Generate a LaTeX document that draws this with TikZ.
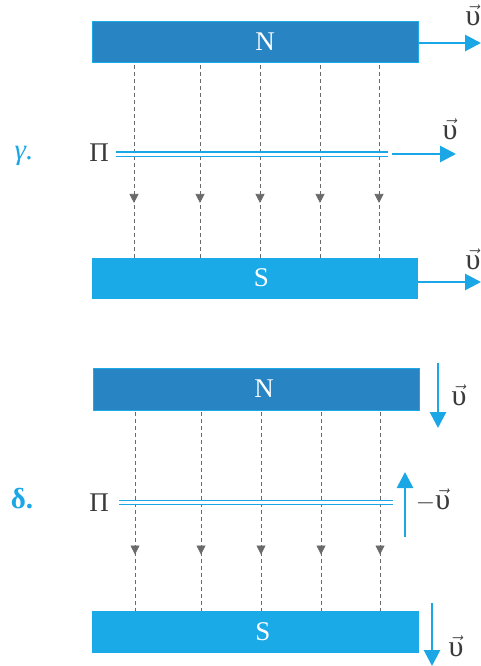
\documentclass[tikz,border=0pt]{standalone}
\usepackage{fontspec}
\newfontfamily\grk{Liberation Serif}
\usetikzlibrary{arrows.meta,decorations.markings}
\definecolor{ndark}{HTML}{2884C3}
\definecolor{sbright}{HTML}{1AAAE8}
\definecolor{arrowc}{HTML}{1BA7E5}
\definecolor{fieldc}{HTML}{6A6A6A}
\definecolor{txtc}{HTML}{3A3A3A}
\newcommand{\vu}{$\vec{\hbox{\grk υ}}$}
\begin{document}
\begin{tikzpicture}[x=1pt,y=-1pt,
  magnetN/.style={fill=ndark,draw=sbright,line width=0.8pt,inner sep=0pt},
  magnetS/.style={fill=sbright,draw=sbright,line width=0.8pt,inner sep=0pt},
  pole/.style={text=white,font=\fontsize{27}{30}\selectfont\grk,inner sep=0pt},
  pilab/.style={text=txtc,font=\fontsize{27}{30}\selectfont\grk,inner sep=0pt},
  vlab/.style={text=txtc,font=\fontsize{30}{32}\selectfont,inner sep=0pt},
  tag/.style={text=arrowc,font=\fontsize{29}{32}\selectfont\grk,inner sep=0pt},
  fieldline/.style={fieldc,line width=0.8pt,dash pattern=on 4pt off 3pt,
    postaction={decorate},
    decoration={markings,mark=at position 0.72 with {\arrow{Triangle[length=9pt,width=9pt]}}}},
  varrow/.style={arrowc,line width=2.8pt,-{Triangle[length=16pt,width=16pt]}},
  plate/.style={draw=arrowc,line width=1.2pt,double=white,double distance=3pt}
]
\useasboundingbox (0,0) rectangle (481,666);

% ---------- panel gamma ----------
\node[magnetN,minimum width=326pt,minimum height=41pt] (N1) at (255,41.5) {};
\node[magnetS,minimum width=325pt,minimum height=40pt] (S1) at (254.5,278) {};
\node[pole] (N1t) at ([xshift=10pt]N1.center) {N};
\node[pole] (S1t) at ([xshift=7pt]S1.center) {S};
\foreach \x in {134,200,260,320,379}
  \draw[fieldline,shorten <=3pt] (N1.south -| \x,0) -- (S1.north -| \x,0);
\coordinate (P1a) at (116,154);
\coordinate (P1b) at (388,154);
\draw[plate] (P1a) -- (P1b);
\node[pilab] (Pi1) at (99,153) {Π};
\node[tag] (g) at (24,156) {\itshape γ.};
% velocity arrows
\coordinate (a1) at (481,43);
\draw[varrow] ([yshift=-1.5pt]N1.east) -- (a1);
\node[vlab] (v1) at (473,15) {\vu};
\coordinate (a2a) at (392,154);
\coordinate (a2b) at (456,154);
\draw[varrow] (a2a) -- (a2b);
\node[vlab] (v2) at (450,129) {\vu};
\coordinate (a3) at (481,282);
\draw[varrow] ([yshift=-4pt]S1.east) -- (a3);
\node[vlab] (v3) at (473,259) {\vu};

% ---------- panel delta ----------
\node[magnetN,minimum width=326pt,minimum height=42pt] (N2) at (256,389) {};
\node[magnetS,minimum width=326pt,minimum height=41pt] (S2) at (255,631.5) {};
\node[pole] (N2t) at ([xshift=8pt]N2.center) {N};
\node[pole] (S2t) at ([xshift=8pt]S2.center) {S};
\foreach \x in {135,201,261,321,380}
  \draw[fieldline,shorten <=2pt] (N2.south -| \x,0) -- (S2.north -| \x,0);
\coordinate (P2a) at (119,502.5);
\coordinate (P2b) at (393,502.5);
\draw[plate] (P2a) -- (P2b);
\node[pilab] (Pi2) at (99,503) {Π};
\node[tag] (d) at (22,499) {\bfseries δ.};
% velocity arrows
\coordinate (b1a) at (438,363);
\coordinate (b1b) at (438,428);
\draw[varrow] (b1a) -- (b1b);
\node[vlab] (w1) at (459,395) {\vu};
\coordinate (b2a) at (405,537);
\coordinate (b2b) at (405,472);
\draw[varrow] (b2a) -- (b2b);
\node[vlab] (w2) at (433,500) {$-$\vu};
\coordinate (b3a) at (432,603);
\coordinate (b3b) at (432,666);
\draw[varrow] (b3a) -- (b3b);
\node[vlab] (w3) at (456,646) {\vu};
\end{tikzpicture}
\end{document}
